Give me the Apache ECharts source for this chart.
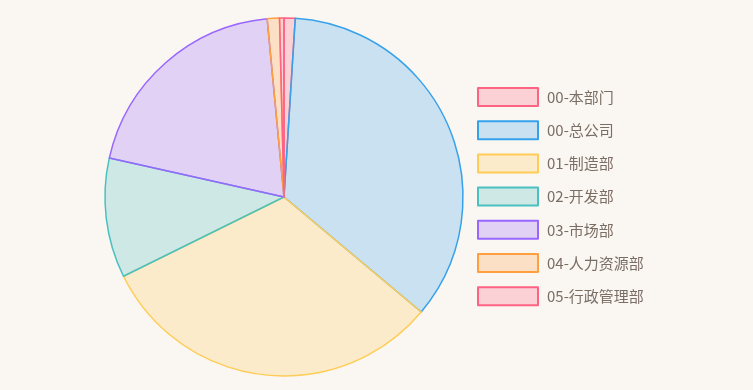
<!DOCTYPE html>
<html><head><meta charset="utf-8">
<script src="https://cdn.jsdelivr.net/npm/echarts@6/dist/echarts.min.js"></script>
<style>html,body{margin:0;padding:0;background:#faf6f2;}#c{width:753px;height:390px;}</style>
</head><body><div id="c"></div>
<script>
const categories = ['00-本部门', '00-总公司', '01-制造部', '02-开发部', '03-市场部', '04-人力资源部', '05-行政管理部'];
const values = [1.0, 35.1, 31.6, 10.8, 20.0, 1.1, 0.4];
const borderColors = ['rgb(255,99,132)', 'rgb(54,162,235)', 'rgb(255,205,86)', 'rgb(75,192,192)', 'rgb(153,102,255)', 'rgb(255,159,64)', 'rgb(255,99,132)'];
const fillColors = ['rgba(255,99,132,0.25)', 'rgba(54,162,235,0.25)', 'rgba(255,205,86,0.25)', 'rgba(75,192,192,0.25)', 'rgba(153,102,255,0.25)', 'rgba(255,159,64,0.25)', 'rgba(255,99,132,0.25)'];

const chart = echarts.init(document.getElementById('c'), null, {renderer: 'canvas'});
chart.setOption({
  backgroundColor: '#faf6f2',
  animation: false,
  legend: {
    orient: 'vertical',
    left: 472,
    top: 82,
    padding: 5,
    icon: 'rect',
    itemWidth: 60,
    itemHeight: 18,
    itemGap: 13.2,
    itemTextGap: 8,
    textStyle: {fontSize: 15, lineHeight: 18, padding: [0, 0, 0, 4], color: '#7a6e64', fontFamily: '"Noto Sans CJK SC", "Noto Sans", sans-serif'},
    data: categories
  },
  series: [{
    type: 'pie',
    center: [284, 197],
    radius: [0, 179],
    startAngle: 90,
    clockwise: true,
    avoidLabelOverlap: false,
    label: {show: false},
    labelLine: {show: false},
    emphasis: {disabled: true},
    data: categories.map((n, i) => ({
      name: n,
      value: values[i],
      itemStyle: {color: fillColors[i], borderColor: borderColors[i], borderWidth: 1.5}
    }))
  }]
});
</script>
</body></html>
